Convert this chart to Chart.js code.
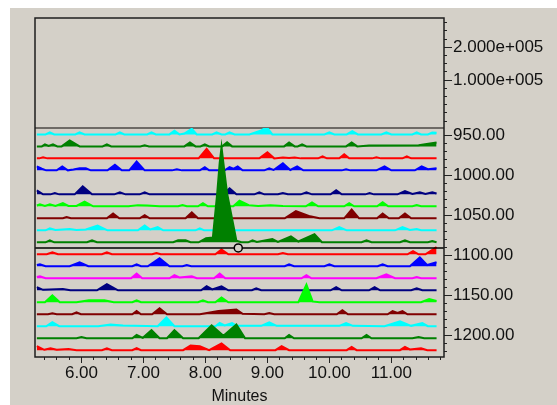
<!DOCTYPE html>
<html>
<head>
<meta charset="utf-8">
<script src="https://cdn.jsdelivr.net/npm/chart.js@4.4.1/dist/chart.umd.min.js"></script>
<style>
  html, body { margin: 0; padding: 0; background: #fff; }
  #wrap { width: 557px; height: 405px; }
</style>
</head>
<body>
<div id="wrap"><canvas id="chromatogram" width="557" height="405"></canvas></div>
<script>
// time axis (minutes)
const timeMin = 5.25, timeMax = 11.85;
const timeLabels = [6, 7, 8, 9, 10, 11];
// right axis, upper block (intensity)
const intensityTicks = [100000, 200000];
const intensityLabels = ['1.000e+005', '2.000e+005'];
// right axis, lower block (mass channels)
const massLabels = [950, 1000, 1050, 1100, 1150, 1200];

// traces: baseline (mass) and colour, then [minutes, height] vertices per trace
const traceBase = [949, 964, 979, 994, 1024, 1039, 1054, 1069, 1084, 1099, 1114, 1129, 1144, 1159, 1174, 1189, 1204, 1219];
const traceColor = ['#00ffff', '#008000', '#ff0000', '#0000ff', '#000080', '#00ff00', '#800000', '#00ffff', '#008000',
                    '#ff0000', '#0000ff', '#ff00ff', '#000080', '#00ff00', '#800000', '#00ffff', '#008000', '#ff0000'];

const ch949 = [[5.28,0],[5.42,0],[5.49,2.5],[5.56,0],[5.90,0],[5.97,2.5],[6.05,0],[6.55,0],[6.62,2.5],[6.69,0],[7.06,0],[7.13,2.5],[7.20,0],[7.42,0],[7.50,4.5],[7.58,0],[7.66,1],[7.78,7],[7.86,0],[8.11,0],[8.18,2.5],[8.26,0],[8.32,0],[8.39,2.5],[8.47,0],[8.71,0],[8.90,5],[8.99,9],[9.08,0],[9.92,0],[10.00,2.5],[10.08,0],[10.28,0],[10.37,4],[10.46,0],[10.84,0],[10.92,2.5],[11.00,0],[11.34,0],[11.41,2.5],[11.48,0],[11.59,0],[11.66,2.5],[11.73,2]];
const ch964 = [[5.28,0],[5.36,0],[5.41,2.5],[5.47,0.5],[5.54,2.5],[5.61,0],[5.68,0],[5.81,7.5],[5.97,0],[6.34,0],[6.41,2.5],[6.48,0],[6.95,0],[7.02,1.5],[7.09,0],[7.66,0],[7.75,5],[7.84,0],[7.92,0],[7.99,2.5],[8.06,0],[8.27,0],[8.35,5],[8.43,0],[9.27,0],[9.35,5],[9.44,0],[9.49,0],[9.56,2.5],[9.63,0],[10.27,0],[10.36,5],[10.45,0],[10.64,1],[11.44,1.5],[11.73,5]];
const ch979 = [[5.28,0],[5.32,0],[5.38,1.5],[5.45,0],[7.89,0],[8.02,12],[8.14,0],[8.87,0],[9.00,7.5],[9.11,0],[9.25,1.2],[9.35,0.5],[9.44,1.2],[9.54,0],[9.82,0],[9.89,2.5],[9.96,0],[10.16,0],[10.24,5],[10.32,0],[10.69,0],[10.76,1.5],[10.83,0],[11.18,0],[11.25,2.5],[11.32,0],[11.73,0]];
const ch994 = [[5.28,5],[5.36,2],[5.43,0],[5.60,0],[5.69,5],[5.78,0],[5.87,1],[5.97,2.5],[6.07,2.5],[6.15,0],[6.42,0],[6.54,7],[6.65,0],[6.77,0],[6.89,11],[7.02,0],[7.46,0],[7.54,1.5],[7.62,0],[7.91,0],[7.99,4],[8.06,0],[8.31,0],[8.39,4],[8.45,2],[8.52,5],[8.60,0],[8.95,0],[9.03,2.5],[9.10,0.5],[9.25,9],[9.37,0.5],[9.48,5],[9.58,0],[10.20,0],[10.27,1.5],[10.34,0],[10.76,0],[10.89,5],[11.00,0],[11.38,0],[11.49,5],[11.59,1.5],[11.73,2.5]];
const ch1024 = [[5.28,5],[5.38,0],[5.50,0],[5.57,1.5],[5.64,0],[5.89,0],[6.02,10],[6.17,0],[6.53,0],[6.62,2.5],[6.71,0],[6.94,0],[7.02,2.5],[7.10,0],[8.29,0],[8.39,7.5],[8.50,0],[8.79,0],[8.87,2.5],[8.95,0],[9.17,0],[9.25,1.5],[9.33,0],[9.54,0],[9.63,2.5],[9.72,0],[10.02,0],[10.11,5],[10.20,0],[10.58,0],[10.65,1.5],[10.72,0],[11.10,0],[11.22,4],[11.34,0.5],[11.46,2.5],[11.55,0.5],[11.66,2.5],[11.73,1]];
const ch1039 = [[5.28,1],[5.33,2.5],[5.41,0.5],[5.49,2.5],[5.58,0.5],[5.70,4],[5.79,0.5],[5.92,0.5],[6.05,6],[6.19,0],[6.76,0],[6.91,1.5],[7.06,1],[7.26,0],[7.56,0],[7.63,1.5],[7.70,0],[7.88,0],[7.96,4],[8.04,0],[8.45,0],[8.55,7],[8.70,1.5],[8.85,0.5],[9.05,1.5],[9.25,0.5],[9.62,0],[9.72,5],[9.82,0],[10.24,0],[10.32,4],[10.40,0],[10.77,0],[10.86,5],[10.95,0],[11.34,0],[11.41,1.5],[11.48,0],[11.73,0]];
const ch1054 = [[5.28,0],[5.70,0],[5.76,1.5],[5.83,0],[6.41,0],[6.51,6],[6.61,0],[6.94,0],[7.02,4],[7.10,0],[7.68,0],[7.78,7.5],[7.88,0],[9.28,0],[9.46,9],[9.69,2.5],[9.84,0],[10.24,0],[10.36,11],[10.48,0],[10.77,0],[10.86,6],[10.96,0],[11.12,0],[11.22,6],[11.32,0],[11.73,0]];
const ch1069 = [[5.28,0],[5.42,0],[5.49,2.5],[5.58,0.5],[5.81,1.5],[5.92,0.5],[6.07,1],[6.26,6],[6.42,0],[6.91,0],[7.02,6],[7.11,1],[7.23,4],[7.32,0],[7.84,0],[7.91,2.5],[7.98,0],[10.04,0],[10.16,4],[10.28,0],[11.06,0],[11.18,4],[11.30,0.5],[11.41,1.5],[11.48,0],[11.73,0]];
const ch1084 = [[5.28,0],[5.42,0],[5.49,2.5],[5.56,0],[6.09,0],[6.17,2.5],[6.25,0],[7.48,0],[7.56,2.5],[7.68,2.5],[7.76,0],[7.89,0],[8.01,5],[8.12,6],[8.19,61],[8.23,99],[8.26,119],[8.29,99],[8.35,61],[8.50,2],[8.58,0],[8.69,0],[8.76,2.5],[8.83,0.5],[9.08,4],[9.17,0.5],[9.38,7.5],[9.50,1],[9.76,10],[9.88,0],[10.52,0],[10.60,2.5],[10.68,0],[11.14,0],[11.22,2.5],[11.30,0],[11.59,0],[11.66,1.5],[11.73,0]];
const ch1099 = [[5.28,0],[5.44,0],[5.53,2.5],[5.62,0],[6.33,0],[6.41,2.5],[6.49,0],[7.14,0],[7.21,1.5],[7.28,0],[8.16,0],[8.26,6],[8.37,0],[9.17,0],[9.25,1.5],[9.33,0],[11.26,0],[11.35,4],[11.44,0],[11.55,0],[11.73,9]];
const ch1114 = [[5.28,1.5],[5.33,2.5],[5.42,0],[5.81,0],[5.97,5],[6.11,0],[6.82,0],[6.89,2.5],[6.96,0],[7.07,0],[7.26,10],[7.42,0],[7.63,0],[7.70,1.5],[7.77,0],[9.28,0],[9.35,2.5],[9.43,0],[9.92,0],[10.00,2.5],[10.08,0],[10.78,0],[10.86,2.5],[10.94,0],[11.30,0],[11.46,11],[11.58,1.5],[11.73,5]];
const ch1129 = [[5.28,1.5],[5.33,2.5],[5.42,0],[6.80,0],[6.89,6],[6.98,0],[7.42,0],[7.50,4],[7.58,1],[7.78,2.5],[7.86,0],[8.14,0],[8.23,6],[8.32,0],[9.55,0],[9.63,4],[9.71,0],[10.76,0],[10.92,5],[11.06,0],[11.34,0],[11.41,1.5],[11.48,0],[11.73,0]];
const ch1144 = [[5.28,4],[5.38,0.5],[5.70,1.5],[5.82,0],[6.25,0],[6.41,7.5],[6.59,0],[7.93,0],[8.02,5],[8.11,1],[8.26,5],[8.37,0],[8.75,0],[8.82,2.5],[8.90,0],[10.02,0],[10.11,4],[10.20,0],[10.64,0],[10.73,4],[10.82,0],[11.32,0],[11.41,2.5],[11.50,0],[11.73,0]];
const ch1159 = [[5.28,0],[5.41,0],[5.53,8.5],[5.65,0],[5.92,0],[6.12,2.5],[6.37,2.5],[6.52,0],[6.82,0],[6.89,2.5],[6.96,0],[7.88,0],[7.96,2.5],[8.04,0],[8.16,0],[8.26,6],[8.37,0],[9.50,0],[9.63,22],[9.73,1],[9.84,0],[11.48,0],[11.61,4],[11.73,1.5]];
const ch1174 = [[5.28,0],[5.46,0],[5.53,1.2],[5.60,0],[5.85,0],[5.92,2.5],[5.99,0],[6.82,0],[6.89,4],[6.96,0],[7.14,0],[7.26,7.5],[7.38,0],[7.91,0],[8.21,4],[8.50,6],[8.60,0.5],[8.95,0],[9.03,1.5],[9.11,0],[10.12,0],[10.21,5],[10.30,0],[10.94,0],[11.02,4],[11.10,1.5],[11.18,4],[11.26,0],[11.73,0]];
const ch1189 = [[5.28,0],[5.43,0],[5.53,5],[5.64,0],[6.27,0],[6.47,2],[6.67,1],[7.23,0],[7.37,11],[7.50,0],[8.16,0],[8.23,4],[8.31,1],[8.43,4],[8.51,0.5],[8.90,0.5],[9.03,5],[9.15,0.5],[10.16,0.5],[10.27,4],[10.38,0.5],[10.89,0],[11.14,6],[11.32,0.5],[11.50,4],[11.59,0],[11.73,0]];
const ch1204 = [[5.28,0],[5.92,0],[6.00,1.5],[6.08,0],[6.82,0],[6.89,4],[6.99,0.5],[7.13,10],[7.26,0],[7.38,0],[7.50,10],[7.64,0],[7.89,0],[8.10,16],[8.29,3],[8.50,17],[8.64,0],[9.28,0],[9.35,4],[9.43,0],[10.52,0],[10.60,4],[10.68,0],[11.34,0],[11.44,1.5],[11.53,0],[11.73,0]];
const ch1219 = [[5.28,5],[5.40,0.5],[5.50,2.5],[5.60,0.5],[5.79,1.5],[5.92,0],[6.33,0],[6.41,2.5],[6.49,0],[6.82,0],[6.89,2.5],[6.96,0],[7.64,0],[7.76,6],[7.91,5],[8.06,0],[8.26,8.5],[8.40,0],[9.13,0],[9.23,5],[9.35,0],[10.28,0],[10.36,4],[10.44,0],[11.14,0],[11.22,4],[11.30,1],[11.48,2.5],[11.58,0],[11.73,0]];

const traces = [ch949, ch964, ch979, ch994, ch1024, ch1039, ch1054, ch1069, ch1084,
                ch1099, ch1114, ch1129, ch1144, ch1159, ch1174, ch1189, ch1204, ch1219];

// cursor line with its marker
const cursorMass = 1091;
const cursorTime = 8.53;

const panelGray = '#d4d0c8';
Chart.defaults.font.family = '"Liberation Sans", Arial, sans-serif';
Chart.defaults.font.size = 17;
Chart.defaults.color = '#111';

const datasets = traces.map((pts, i) => ({
  data: pts.map(p => ({x: p[0], y: traceBase[i] - p[1]})),
  yAxisID: 'mass',
  borderColor: traceColor[i],
  backgroundColor: traceColor[i],
  borderWidth: 2,
  fill: {value: traceBase[i]},
  pointRadius: 0,
  tension: 0,
  order: traces.length - i   // lower traces sit over the ones above
}));
datasets.push({
  data: [{x: timeMin, y: cursorMass}, {x: timeMax, y: cursorMass}],
  yAxisID: 'mass', borderColor: '#000', borderWidth: 1.5, pointRadius: 0, fill: false, order: -1
});
datasets.push({
  data: [{x: cursorTime, y: cursorMass}],
  yAxisID: 'mass', showLine: false, pointRadius: 4, pointBorderWidth: 1.5,
  pointBorderColor: '#000', pointBackgroundColor: panelGray, order: -2
});

function stepTicks(from, to, step, digits) {
  const out = [];
  for (let v = from; v <= to + step / 2; v += step) out.push({value: +v.toFixed(digits)});
  return out;
}

const panel = {
  id: 'panel',
  beforeDraw(chart) {
    const c = chart.ctx;
    c.save();
    c.fillStyle = '#ffffff';
    c.fillRect(0, 0, chart.width, chart.height);
    c.fillStyle = panelGray;
    c.fillRect(10, 8, chart.width - 10, chart.height - 8);
    c.restore();
  },
  beforeDatasetsDraw(chart) {
    const c = chart.ctx, a = chart.chartArea, y = chart.scales.intensity.bottom;
    c.save();
    c.strokeStyle = '#6e6a66';
    c.lineWidth = 2;
    c.beginPath(); c.moveTo(a.left, y); c.lineTo(a.right, y); c.stroke();
    c.restore();
  },
  afterDraw(chart) {
    const c = chart.ctx, a = chart.chartArea;
    c.save();
    c.strokeStyle = '#1e1e1e';
    c.lineWidth = 1.5;
    c.strokeRect(a.left, a.top, a.right - a.left, a.bottom - a.top);
    c.restore();
  }
};

new Chart(document.getElementById('chromatogram'), {
  type: 'line',
  data: { datasets: datasets },
  options: {
    responsive: false,
    animation: false,
    devicePixelRatio: 1,
    layout: { padding: { left: 35, top: 18, right: 0, bottom: 0 } },
    plugins: { legend: { display: false }, tooltip: { enabled: false } },
    scales: {
      x: {
        type: 'linear', min: timeMin, max: timeMax,
        border: { display: false },
        grid: {
          drawOnChartArea: false, tickLength: 6, tickColor: '#222', tickWidth: 1,
          tickBorderDash: c => (c.tick && timeLabels.includes(c.tick.value)) ? [] : [3, 20]
        },
        afterBuildTicks: s => { s.ticks = stepTicks(5.4, 11.8, 0.2, 1); },
        ticks: {
          autoSkip: false, maxRotation: 0, padding: 0,
          callback: v => timeLabels.includes(v) ? v.toFixed(2) : ''
        },
        title: { display: true, text: 'Minutes', padding: 0, font: { size: 16, lineHeight: 1 } },
        afterFit: s => { s.height = 48; }
      },
      intensity: {
        type: 'linear', position: 'right', stack: 'right', stackWeight: 110,
        min: -46000, max: 289500,
        border: { display: false },
        grid: {
          drawOnChartArea: false, tickLength: 8, tickColor: '#222', tickWidth: 1,
          tickBorderDash: c => (c.tick && intensityTicks.includes(c.tick.value)) ? [] : [3, 20]
        },
        afterBuildTicks: s => { s.ticks = stepTicks(-25000, 275000, 25000, 0); },
        ticks: {
          autoSkip: false, padding: 1,
          callback: v => { const k = intensityTicks.indexOf(v); return k >= 0 ? intensityLabels[k] : ''; }
        },
        afterFit: s => { s.width = 113; }
      },
      mass: {
        type: 'linear', position: 'right', stack: 'right', stackWeight: 229,
        min: 941, max: 1227.5, reverse: true,
        border: { display: false },
        grid: {
          drawOnChartArea: false, tickLength: 8, tickColor: '#222', tickWidth: 1,
          tickBorderDash: c => (c.tick && massLabels.includes(c.tick.value)) ? [] : [3, 20]
        },
        afterBuildTicks: s => { s.ticks = stepTicks(950, 1220, 10, 0); },
        ticks: {
          autoSkip: false, padding: 1,
          callback: v => massLabels.includes(v) ? v.toFixed(2) : ''
        },
        afterFit: s => { s.width = 113; }
      }
    }
  },
  plugins: [panel]
});
</script>
</body>
</html>
